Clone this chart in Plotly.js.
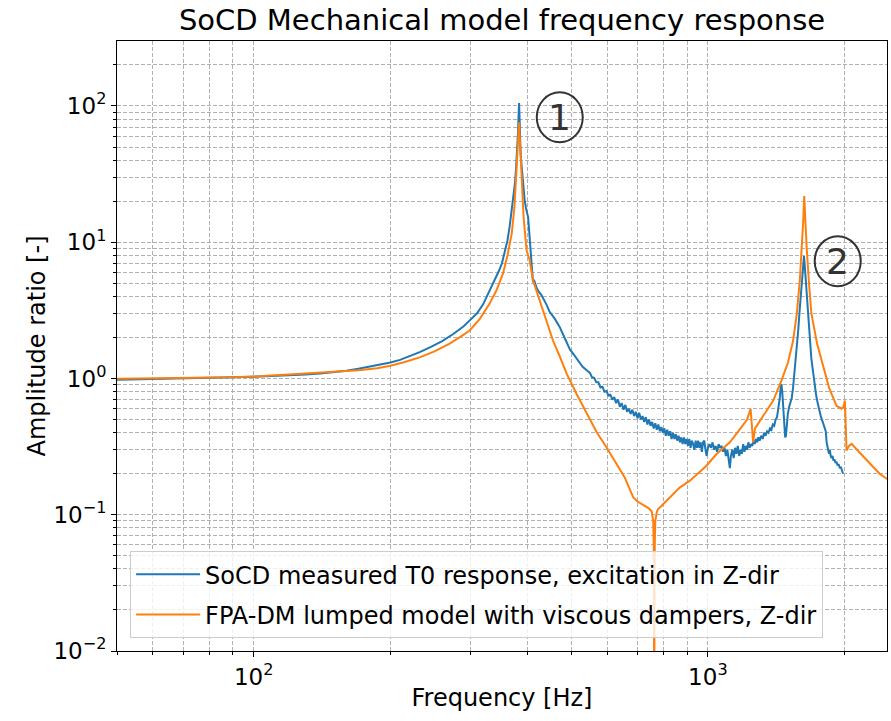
<!DOCTYPE html>
<html>
<head>
<meta charset="utf-8">
<script src="https://cdn.plot.ly/plotly-3.0.1.min.js"></script>
<style>html,body{margin:0;padding:0;background:#fff}#chart{width:891px;height:721px}</style>
</head>
<body>
<div id="chart"></div>
<script>
// Measured T0 response (blue)
const measFreq = [50,55,60,65,70,80,90,100,110,120,130,140,150,160,170,180,190,200,210,220,232,245,260,275,290,299,310,320,331,340,347,352,358,362,366,370,373,376,378,380,382,383,384,385,386,387,389,391,393,395,398,402,405,408,410,412,414,416,420,425,430,441,448,460,472,485,497,505,515,523,530,541,
550,556,562,568,574,580,586,592,598,604,610,616,622,628,634,640,646,652,658,664,670,676,682,688,694,700,706,712,718,724,730,736,742,748,754,760,766,772,778,784,790,796,802,808,814,820,826,832,838,844,850,856,862,868,874,880,886,892,898,904,910,916,922,928,934,940,946,952,958,964,970,976,982,988,994,1000,1008,1016,1024,1032,1040,1048,1056,1064,1072,1080,1088,1096,1104,1112,1118,1124,1132,1140,1148,1156,1164,1172,1180,1188,1196,1204,1212,1220,1228,1236,1244,1252,1260,1268,1276,1284,1292,1300,1310,1320,1330,1340,1350,1360,1370,1380,1390,1400,1410,1420,1430,1440,1448,1452,1458,1466,1474,1480,1486,1492,1500,1510,1520,1530,1540,1550,1560,1570,1581,1592,1602,1610,1618,1624,1628,1633,1640,1648,1656,1665,1673,1680,1690,1700,1710,1721,1732,1745,1755,1765,1775,1790,1800,1810,1818,1826,1832,1840,1848,1856,1864,1873,1882,1890,1900,1910,1920,1930,1940,1953,1962,1970,1980,1986];
const measAmp = [0.98,0.985,0.99,0.99,1.0,1.01,1.02,1.03,1.04,1.05,1.07,1.09,1.11,1.14,1.18,1.22,1.26,1.31,1.37,1.45,1.56,1.70,1.88,2.12,2.42,2.67,3.0,3.5,4.4,5.3,6.2,7.0,8.7,10.3,13,17,21,27,34,45,65,85,105,80,55,45,36,28,24,20.4,17.5,15.3,11,7.4,6.0,5.1,5.3,5.0,4.6,4.3,4.1,3.5,3.1,2.75,2.38,1.95,1.63,1.52,1.38,1.28,1.22,1.15,
1.10,1.02,1.01,0.94,0.94,0.86,0.87,0.80,0.81,0.75,
0.76,0.70,0.73,0.66,0.70,0.62,0.66,0.59,0.64,0.57,
0.60,0.55,0.59,0.53,0.57,0.51,0.56,0.50,0.53,0.48,
0.52,0.46,0.50,0.45,0.48,0.43,0.47,0.42,0.46,0.41,
0.44,0.40,0.43,0.38,0.42,0.38,0.41,0.36,0.40,0.36,
0.39,0.35,0.38,0.34,0.37,0.33,0.37,0.33,0.36,0.32,
0.36,0.31,0.35,0.33,0.30,0.35,0.31,0.35,0.31,0.34,
0.29,0.34,0.35,0.30,0.27,0.31,
0.33,0.31,0.34,0.30,0.32,0.29,0.33,0.31,0.32,0.29,0.31,0.27,0.30,0.25,0.22,0.27,0.30,0.26,0.31,0.28,0.32,0.27,0.30,0.28,0.33,0.29,0.32,0.30,0.34,0.31,0.33,0.32,0.35,0.33,0.36,0.34,0.37,0.35,0.38,0.36,0.40,0.38,0.41,0.40,0.43,0.42,0.46,0.45,0.50,0.52,0.60,0.72,0.88,0.91,0.80,0.58,0.42,0.37,0.38,0.46,0.55,0.62,0.66,0.72,0.85,1.05,1.35,1.75,2.25,3.1,4.1,5.2,6.6,7.6,7.9,7.0,5.6,4.6,3.6,2.7,2.1,1.8,1.4,1.2,1.0,0.87,0.75,0.66,0.60,0.55,0.52,0.48,0.45,0.44,0.41,0.34,0.31,0.30,0.28,0.30,0.27,0.26,0.27,0.25,0.255,0.24,0.245,0.23,0.235,0.22,0.225,0.21,0.205,0.20];

// Lumped model (orange)
const modelFreq = [50,60,70,80,90,100,116,130,150,170,187,200,215,232,250,270,285,299,315,331,342,354,362,370,375,379,381,383,384,385,387,389,393,399,405,412,434,456,472,489,514,541,570,598,625,656,685,700,720,740,752,758,760,761,762,763,764,766,772,777,790,811,840,868,913,993,1045,1118,1180,1220,1242,1252,1258,1270,1302,1350,1393,1452,1500,1541,1570,1594,1610,1622,1630,1638,1650,1670,1690,1740,1796,1850,1920,1970,1990,2003,2012,2020,2045,2073,2150,2250,2392,2500];
const modelAmp = [0.995,1.0,1.005,1.01,1.02,1.035,1.06,1.09,1.12,1.15,1.19,1.24,1.32,1.43,1.58,1.80,2.02,2.25,2.75,3.56,4.4,5.9,8.0,11.6,18,33.8,48,65,76,62,40,27,15,8.7,7.4,5.26,3.16,1.9,1.45,1.08,0.77,0.55,0.40,0.313,0.245,0.188,0.134,0.125,0.118,0.112,0.106,0.09,0.06,0.02,0.003,0.02,0.06,0.09,0.105,0.110,0.116,0.127,0.143,0.159,0.178,0.229,0.279,0.340,0.43,0.50,0.598,0.45,0.34,0.43,0.49,0.58,0.689,0.966,1.3,1.9,3.0,5.26,8.5,14.5,21.8,15,9.2,5.0,3.0,1.8,1.21,0.85,0.63,0.60,0.62,0.689,0.45,0.296,0.32,0.331,0.29,0.245,0.199,0.18];

const seriesNames = ['SoCD measured T0 response, excitation in Z-dir','FPA-DM lumped model with viscous dampers, Z-dir'];
const xMajor = [100,1000];
const xMajorText = ['10<sup>2</sup>','10<sup>3</sup>'];
const xMinor = [50,60,70,80,90,200,300,400,500,600,700,800,900,2000];
const yMajor = [0.01,0.1,1,10,100];
const yMajorText = ['10<sup>−2</sup>','10<sup>−1</sup>','10<sup>0</sup>','10<sup>1</sup>','10<sup>2</sup>'];
const yMinor = [0.02,0.03,0.04,0.05,0.06,0.07,0.08,0.09,0.2,0.3,0.4,0.5,0.6,0.7,0.8,0.9,2,3,4,5,6,7,8,9,20,30,40,50,60,70,80,90,200];
const peakLabels = ['1','2'];

const FONT = 'DejaVu Sans, sans-serif';
const gridStyle = {showgrid:true, gridcolor:'#b0b0b0', griddash:'4px,2px', gridwidth:1};

const traces = [
  {x:measFreq, y:measAmp, type:'scatter', mode:'lines', name:seriesNames[0], legendgroup:'a',
   line:{color:'#1f77b4', width:2}},
  {x:modelFreq, y:modelAmp, type:'scatter', mode:'lines', name:seriesNames[1], legendgroup:'b',
   line:{color:'#ff7f0e', width:2}}
];

const layout = {
  width:891, height:721,
  margin:{l:117, r:4, t:41, b:70},
  paper_bgcolor:'#fff', plot_bgcolor:'#fff',
  font:{family:FONT, color:'#000'},
  title:{text:'SoCD Mechanical model frequency response', font:{size:29, family:FONT, color:'#000'},
         x:0.5, xref:'paper', xanchor:'center', y:0.972, yanchor:'middle'},
  xaxis:{type:'log', range:[Math.log10(50), Math.log10(2480)],
    tickmode:'array', tickvals:xMajor, ticktext:xMajorText,
    ticks:'outside', ticklen:5, tickcolor:'#000', tickfont:{size:23, family:FONT},
    showline:true, linecolor:'#000', linewidth:1, mirror:true, zeroline:false,
    ...gridStyle,
    minor:{tickmode:'array', tickvals:xMinor, ticks:'outside', ticklen:3, tickcolor:'#000', ...gridStyle},
    title:{text:'Frequency [Hz]', font:{size:24, family:FONT}, standoff:0}},
  yaxis:{type:'log', range:[-2, 2.477],
    tickmode:'array', tickvals:yMajor, ticktext:yMajorText,
    ticks:'outside', ticklen:5, tickcolor:'#000', tickfont:{size:23, family:FONT},
    showline:true, linecolor:'#000', linewidth:1, mirror:true, zeroline:false,
    ...gridStyle,
    minor:{tickmode:'array', tickvals:yMinor, ticks:'outside', ticklen:3, tickcolor:'#000', ...gridStyle},
    title:{text:'Amplitude ratio [-]', font:{size:24, family:FONT}, standoff:0}},
  showlegend:true,
  legend:{x:0.017, y:0.021, xanchor:'left', yanchor:'bottom',
    bgcolor:'rgba(255,255,255,0.8)', bordercolor:'#cccccc', borderwidth:1,
    font:{size:24, family:FONT, color:'#000'}, traceorder:'grouped', tracegroupgap:6, itemwidth:64},
  shapes:[
    {type:'circle', xref:'paper', yref:'paper', xsizemode:'pixel', ysizemode:'pixel',
     xanchor:0.575, yanchor:0.875, x0:-23, x1:23, y0:-25, y1:25, line:{color:'#333', width:2}},
    {type:'circle', xref:'paper', yref:'paper', xsizemode:'pixel', ysizemode:'pixel',
     xanchor:0.936, yanchor:0.639, x0:-23, x1:23, y0:-25, y1:25, line:{color:'#333', width:2}}
  ],
  annotations:[
    {xref:'paper', yref:'paper', x:0.575, y:0.875, text:peakLabels[0], showarrow:false,
     font:{size:36, family:FONT, color:'#333'}, xanchor:'center', yanchor:'middle'},
    {xref:'paper', yref:'paper', x:0.936, y:0.639, text:peakLabels[1], showarrow:false,
     font:{size:36, family:FONT, color:'#333'}, xanchor:'center', yanchor:'middle'}
  ]
};

Plotly.newPlot('chart', traces, layout, {displayModeBar:false, staticPlot:true});
</script>
</body>
</html>
